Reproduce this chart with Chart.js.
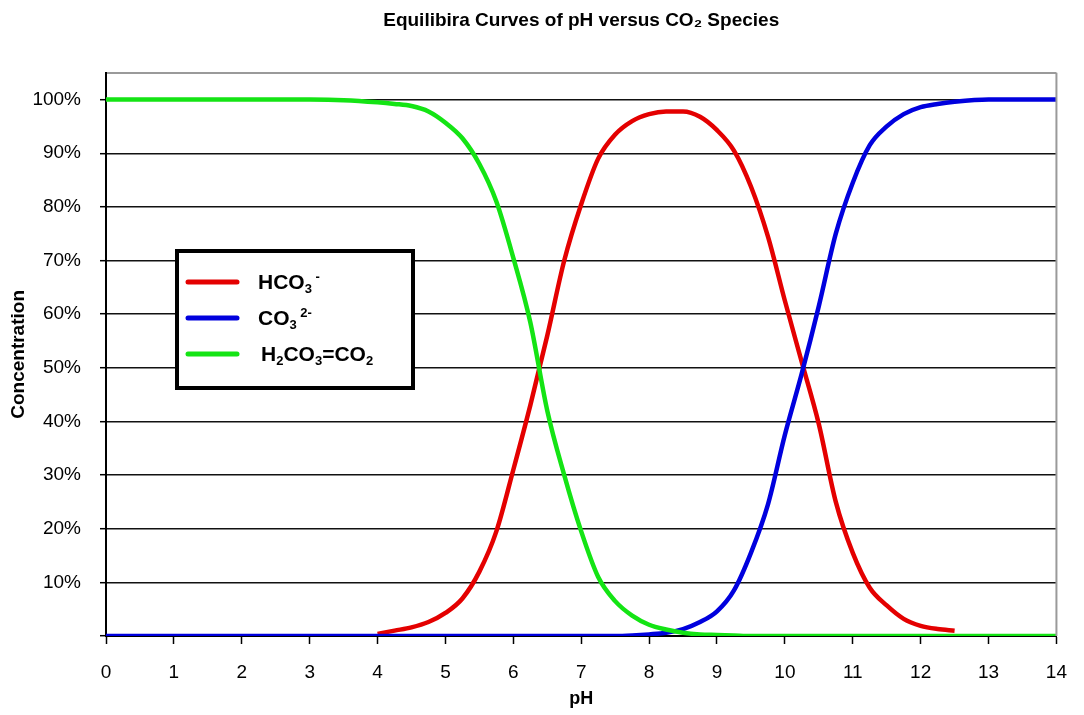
<!DOCTYPE html>
<html>
<head>
<meta charset="utf-8">
<script src="https://cdn.jsdelivr.net/npm/chart.js@4.4.1/dist/chart.umd.min.js"></script>
<style>
  html, body { margin: 0; padding: 0; background: #fff; }
</style>
</head>
<body>
<canvas id="species-chart" width="1084" height="715"></canvas>
<script>
// pH grid and species fractions (%)
const phValues = [0, 1, 2, 3, 3.5, 4, 4.25, 4.5, 4.75, 5, 5.25, 5.5, 5.75, 6, 6.25, 6.5, 6.75, 7, 7.25, 7.5, 7.75,
                  8, 8.25, 8.5, 8.75, 9, 9.25, 9.5, 9.75, 10, 10.25, 10.5, 10.75, 11, 11.25, 11.5, 11.75, 12, 12.25, 12.5, 13, 14];
const hco3Values = [null, null, null, null, null, 0.4, 1.0, 1.6, 2.6, 4.3, 7, 12, 19.5, 31, 43, 56, 70, 80.5, 89, 93.5, 96,
                    97.3, 97.8, 97.8, 96.8, 94.3, 90.5, 83.8, 74.5, 62.5, 51, 39.5, 25, 15.5, 9, 5.7, 3.2, 1.9, 1.3, 1.0, null, null];
const co3Values = [0, 0, 0, 0, 0, 0, 0, 0, 0, 0, 0, 0, 0, 0, 0, 0, 0, 0, 0, 0, 0.1,
                   0.3, 0.6, 1.3, 2.6, 4.6, 8.5, 15.5, 24.5, 37.5, 49, 61.5, 75, 84.5, 91.5, 95, 97.3, 98.6, 99.2, 99.6, 100, 100];
const h2co3Values = [100, 100, 100, 100, 99.9, 99.5, 99.2, 98.8, 97.8, 95.7, 92.8, 88, 81, 70.5, 58.5, 42, 30, 19.5, 11, 6.5, 3.8,
                     2.1, 1.2, 0.6, 0.3, 0.2, 0.1, 0, 0, 0, 0, 0, 0, 0, 0, 0, 0, 0, 0, 0, 0, 0];

const seriesNames = ['HCO3 -', 'CO3 2-', 'H2CO3=CO2'];
const seriesColors = ['rgb(228,0,0)', 'rgb(0,0,222)', 'rgb(20,228,20)'];
// legend text pieces: [text, 0 normal / 1 subscript / 2 superscript]
const legendText = [
    [['HCO', 0], ['3', 1], [' -', 2]],
    [['CO', 0], ['3', 1], [' 2-', 2]],
    [['H', 0], ['2', 1], ['CO', 0], ['3', 1], ['=CO', 0], ['2', 1]]
];

const FONT = "'Liberation Sans', Arial, sans-serif";

const toPoints = vals => phValues.map((x, i) => ({ x: x, y: vals[i] }));

// white legend box with heavy border + grey frame on the right
const boxPlugin = {
    id: 'boxPlugin',
    afterDatasetsDraw(chart) {
        const c = chart.ctx;
        const area = chart.chartArea;
        c.save();
        c.strokeStyle = '#9a9a9a';
        c.lineWidth = 2;
        c.beginPath();
        c.moveTo(area.right, area.top);
        c.lineTo(area.right, area.bottom);
        c.stroke();

        const bx = 177, by = 251, bw = 236, bh = 137;
        c.fillStyle = '#fff';
        c.fillRect(bx, by, bw, bh);
        c.strokeStyle = '#000';
        c.lineWidth = 4;
        c.strokeRect(bx, by, bw, bh);

        const rowY = [282, 318, 354];
        legendText.forEach((parts, i) => {
            c.strokeStyle = seriesColors[i];
            c.lineWidth = 5;
            c.lineCap = 'round';
            c.beginPath();
            c.moveTo(188, rowY[i]);
            c.lineTo(237, rowY[i]);
            c.stroke();

            let x = i === 2 ? 261 : 258;
            c.fillStyle = '#000';
            c.textBaseline = 'middle';
            c.textAlign = 'left';
            parts.forEach(([t, kind]) => {
                if (kind === 0) {
                    c.font = 'bold 21px ' + FONT;
                    c.fillText(t, x, rowY[i] + 1);
                } else if (kind === 1) {
                    c.font = 'bold 13px ' + FONT;
                    c.fillText(t, x, rowY[i] + 7);
                } else {
                    c.font = 'bold 13px ' + FONT;
                    c.fillText(t, x, rowY[i] - 5);
                }
                x += c.measureText(t).width;
            });
        });
        c.restore();
    }
};

const ctx = document.getElementById('species-chart').getContext('2d');
const chart = new Chart(ctx, {
    type: 'line',
    data: {
        datasets: [
            { label: seriesNames[0], data: toPoints(hco3Values), borderColor: seriesColors[0], order: 2 },
            { label: seriesNames[1], data: toPoints(co3Values), borderColor: seriesColors[1], order: 1 },
            { label: seriesNames[2], data: toPoints(h2co3Values), borderColor: seriesColors[2], order: 0 }
        ]
    },
    options: {
        responsive: false,
        animation: false,
        datasets: {
            line: { borderWidth: 4.5, pointRadius: 0, fill: false, cubicInterpolationMode: 'monotone' }
        },
        layout: { padding: { top: 0, right: 15, bottom: 0, left: 0 } },
        scales: {
            x: {
                type: 'linear',
                min: 0,
                max: 14,
                ticks: { stepSize: 1, color: '#000', padding: 17, font: { family: FONT, size: 19 } },
                grid: { drawOnChartArea: false, tickLength: 8, tickColor: '#000', tickWidth: 1.5 },
                border: { color: '#000', width: 2 },
                title: { display: true, text: 'pH', color: '#000', font: { family: FONT, size: 18, weight: 'bold' }, padding: { top: 0, bottom: 5 } },
                afterFit(scale) { scale.height = 79; }
            },
            y: {
                min: 0,
                max: 105,
                ticks: {
                    stepSize: 10,
                    color: '#000',
                    padding: 19,
                    font: { family: FONT, size: 19 },
                    callback: v => (v > 0 && v <= 100) ? v + '%' : ''
                },
                grid: {
                    color: c => (c.tick && c.tick.value > 100) ? '#9a9a9a' : '#111',
                    lineWidth: c => (c.tick && c.tick.value > 100) ? 2 : 1.4,
                    tickColor: c => (c.tick && c.tick.value > 100) ? 'rgba(0,0,0,0)' : '#000',
                    tickLength: 6,
                    tickWidth: 1.5
                },
                border: { color: '#000', width: 2 },
                title: { display: true, text: 'Concentration', color: '#000', font: { family: FONT, size: 19, weight: 'bold' }, padding: { top: 7 } },
                afterFit(scale) { scale.width = 106; }
            }
        },
        plugins: {
            legend: { display: false },
            tooltip: { enabled: false },
            title: {
                display: true,
                fullSize: false,
                text: 'Equilibira Curves of pH versus CO\u2082 Species',
                color: '#000',
                font: { family: FONT, size: 19, weight: 'bold' },
                padding: { top: 9, bottom: 41 }
            }
        }
    },
    plugins: [boxPlugin]
});
</script>
</body>
</html>
